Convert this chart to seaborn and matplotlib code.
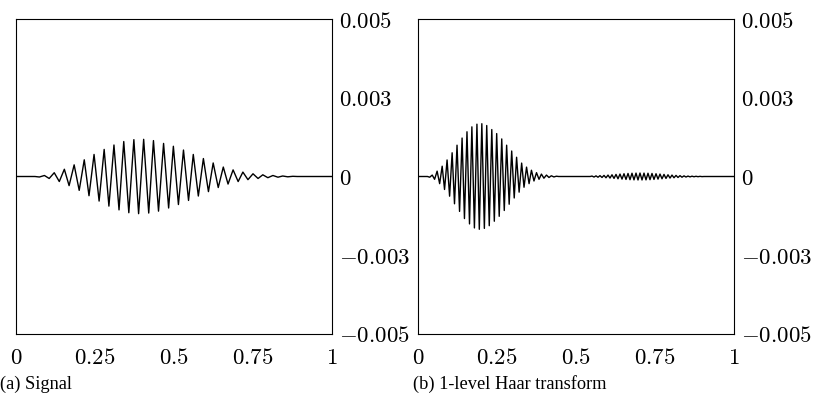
import numpy as np
import pandas as pd
import matplotlib
matplotlib.use("Agg")
import matplotlib.pyplot as plt
import seaborn as sns

# ---------------- data (values in units of 1e-3) ----------------
# (a) Signal: extrema positions and values
sig_t = [0.0, 0.060, 0.074, 0.090, 0.105, 0.121, 0.137, 0.153, 0.168, 0.184, 0.200, 0.216,
         0.231, 0.247, 0.263, 0.279, 0.294, 0.310, 0.326, 0.341, 0.357, 0.373,
         0.388, 0.404, 0.420, 0.435, 0.451, 0.467, 0.483, 0.498, 0.514, 0.530,
         0.546, 0.561, 0.577, 0.593, 0.609, 0.624, 0.640, 0.656, 0.671, 0.687,
         0.703, 0.718, 0.734, 0.750, 0.766, 0.781, 0.797, 0.813, 0.829, 0.844,
         0.860, 0.876, 0.890, 1.0]
sig_v = [0.0, 0.0, -0.016, 0.032, -0.063, 0.12, -0.16, 0.23, -0.29, 0.37, -0.44, 0.53,
         -0.61, 0.70, -0.78, 0.86, -0.94, 1.00, -1.06, 1.11, -1.15, 1.17,
         -1.18, 1.18, -1.16, 1.14, -1.10, 1.05, -1.00, 0.96, -0.89, 0.84,
         -0.76, 0.70, -0.62, 0.57, -0.48, 0.43, -0.35, 0.30, -0.24, 0.21,
         -0.16, 0.14, -0.10, 0.086, -0.063, 0.054, -0.038, 0.032, -0.022, 0.016,
         -0.010, 0.006, 0.0, 0.0]

# (b) 1-level Haar transform: approximation part then detail part
haar_t = [0.0, 0.030,
          0.037, 0.045, 0.0525, 0.0605, 0.0685, 0.0765, 0.084, 0.092, 0.100, 0.108,
          0.1155, 0.1235, 0.1315, 0.1395, 0.147, 0.155, 0.163, 0.1705, 0.1785, 0.1865,
          0.194, 0.202, 0.210, 0.2175, 0.2255, 0.2335, 0.2415, 0.249, 0.257, 0.265,
          0.273, 0.2805, 0.2885, 0.2965, 0.3045, 0.312, 0.320, 0.328, 0.3355, 0.3435,
          0.3515, 0.359, 0.367, 0.375, 0.383, 0.3905, 0.3985, 0.4065, 0.4145, 0.422,
          0.430, 0.438, 0.445, 0.545,
          0.5506, 0.5570, 0.5633, 0.5696, 0.5759, 0.5823, 0.5886, 0.5949, 0.6013, 0.6076,
          0.6139, 0.6203, 0.6266, 0.6329, 0.6392, 0.6456, 0.6519, 0.6582, 0.6646, 0.6709,
          0.6772, 0.6835, 0.6899, 0.6962, 0.7025, 0.7089, 0.7152, 0.7215, 0.7278, 0.7342,
          0.7405, 0.7468, 0.7532, 0.7595, 0.7658, 0.7722, 0.7785, 0.7848, 0.7911, 0.7975,
          0.8038, 0.8101, 0.8165, 0.8228, 0.8291, 0.8354, 0.8418, 0.8481, 0.8544, 0.8608,
          0.8671, 0.8734, 0.8797, 0.8861, 0.8924, 0.8987, 0.905, 1.0]
haar_v = [0.0, 0.0,
          -0.023, 0.045, -0.089, 0.17, -0.227, 0.327, -0.412, 0.525, -0.625, 0.753,
          -0.866, 0.994, -1.108, 1.221, -1.335, 1.42, -1.505, 1.576, -1.633, 1.661,
          -1.676, 1.676, -1.647, 1.619, -1.562, 1.491, -1.42, 1.363, -1.264, 1.193,
          -1.079, 0.994, -0.88, 0.809, -0.682, 0.611, -0.497, 0.426, -0.341, 0.298,
          -0.227, 0.199, -0.142, 0.122, -0.089, 0.077, -0.054, 0.045, -0.031, 0.023,
          -0.014, 0.009, 0.0, 0.0,
          0.014, -0.017, 0.020, -0.023, 0.027, -0.031, 0.035, -0.040, 0.045, -0.050,
          0.055, -0.061, 0.066, -0.072, 0.077, -0.083, 0.088, -0.093, 0.097, -0.101,
          0.104, -0.107, 0.108, -0.110, 0.110, -0.110, 0.108, -0.107, 0.104, -0.101,
          0.097, -0.093, 0.088, -0.083, 0.077, -0.072, 0.066, -0.061, 0.055, -0.050,
          0.045, -0.040, 0.035, -0.031, 0.027, -0.023, 0.020, -0.017, 0.014, -0.012,
          0.010, -0.008, 0.007, -0.006, 0.005, -0.004, 0.0, 0.0]

x_ticks = [0, 0.25, 0.5, 0.75, 1]
x_labels = ["0", "0.25", "0.5", "0.75", "1"]
y_ticks = [-0.005, -0.0025, 0, 0.0025, 0.005]
y_labels = ["\u22120.005", "\u22120.003", "0", "0.003", "0.005"]
captions = ["(a) Signal", "(b) 1-level Haar transform"]

# ---------------- style ----------------
sns.set_theme(style="white")
plt.rcParams["mathtext.fontset"] = "cm"
plt.rcParams["font.family"] = ["DejaVu Serif"]

fig = plt.figure(figsize=(8.17, 4.0), dpi=100)
W, H = 817.0, 400.0
ax_a = fig.add_axes([16 / W, 1 - 334 / H, 316 / W, 315 / H])
ax_b = fig.add_axes([418 / W, 1 - 334 / H, 316 / W, 315 / H])

df_a = pd.DataFrame({"t": sig_t, "v": np.array(sig_v) * 1e-3})
df_b = pd.DataFrame({"t": haar_t, "v": np.array(haar_v) * 1e-3})

for ax, df, cap, xcap in [(ax_a, df_a, captions[0], 0), (ax_b, df_b, captions[1], 413)]:
    sns.lineplot(data=df, x="t", y="v", ax=ax, color="black", linewidth=1.0,
                 estimator=None, sort=False)
    ax.set_xlim(0, 1)
    ax.set_ylim(-0.005, 0.005)
    ax.set_xlabel("")
    ax.set_ylabel("")
    ax.yaxis.tick_right()
    ax.set_xticks(x_ticks)
    ax.set_xticklabels(["$%s$" % s for s in x_labels])
    ax.set_yticks(y_ticks)
    ax.set_yticklabels(["$%s$" % s.replace("\u2212", "-") for s in y_labels])
    ax.tick_params(axis="both", length=0, labelsize=16.5, colors="black")
    ax.tick_params(axis="x", pad=9)
    ax.tick_params(axis="y", pad=5)
    for sp in ax.spines.values():
        sp.set_visible(True)
        sp.set_color("black")
        sp.set_linewidth(0.8)
    ax.set_facecolor("white")
    fig.text(xcap / W, 1 - 384 / H, cap, ha="left", va="center",
             fontsize=13.2, family=["Liberation Serif"], color="black")

fig.savefig("out.png", dpi=100, facecolor="white")
